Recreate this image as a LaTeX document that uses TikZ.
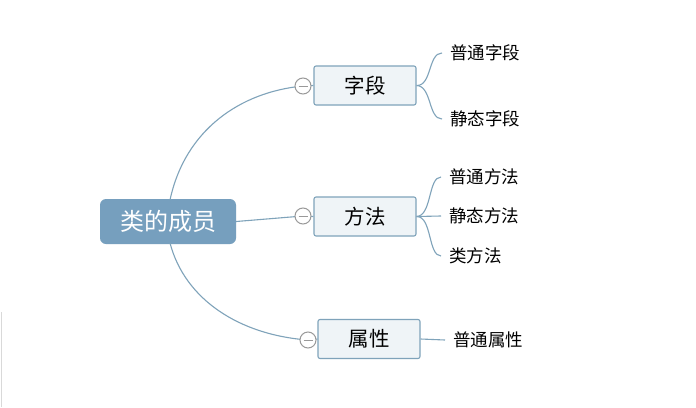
\documentclass[tikz,border=0pt]{standalone}
\usepackage{fontspec}
\setmainfont{Noto Sans CJK SC}
\begin{document}
\begin{tikzpicture}[x=1pt,y=-1pt,
  conn/.style={draw=lineblue,line width=1.1pt},
  topic/.style={draw=lineblue,line width=1.1pt,fill=boxfill,rounded corners=2pt,minimum width=102pt,minimum height=39pt,font=\fontsize{20.5}{20.5}\selectfont,inner sep=0pt},
  leaf/.style={anchor=west,font=\fontsize{17.5}{17.5}\selectfont,inner sep=0pt},
  fold/.style={circle,draw=gray!80,fill=white,minimum size=16pt,inner sep=0pt,line width=1pt}]
\definecolor{lineblue}{HTML}{7FA3BA}
\definecolor{boxfill}{HTML}{EFF4F7}
\definecolor{rootfill}{HTML}{769FBE}
\fill[white] (0,0) rectangle (696,407);
\useasboundingbox (0,0) rectangle (696,407);
\draw[gray!30] (1,312) -- (1,407);
\node[fill=rootfill,rounded corners=6pt,minimum width=136pt,minimum height=45pt,text=white,font=\fontsize{24}{24}\selectfont,inner sep=0pt] (root) at (168,221.5) {类的成员};
\node[topic] (zd) at (365,85.5) {字段};
\node[topic] (ff) at (365,216.5) {方法};
\node[topic] (sx) at (369,339) {属性};
\coordinate (c1) at (303,86);
\coordinate (c2) at (303,216);
\coordinate (c3) at (308,340);
\draw[conn] (170,200) .. controls (185,130) and (240,92) .. (c1);
\draw[conn] (root.east) -- (c2);
\draw[conn] (170,243) .. controls (185,300) and (240,335) .. (c3);
\draw[conn] (c1) -- (zd.west);
\draw[conn] (c2) -- (ff.west);
\draw[conn] (c3) -- (sx.west);
\node[fold] (f1) at (c1) {};
\node[fold] (f2) at (c2) {};
\node[fold] (f3) at (c3) {};
\foreach \n in {f1,f2,f3} \draw[gray!80,line width=1pt] ([xshift=-4.5pt]\n.center) -- ([xshift=4.5pt]\n.center);
\node[leaf] (a1) at (450,53) {普通字段};
\node[leaf] (a2) at (450,119) {静态字段};
\node[leaf] (b1) at (449,177) {普通方法};
\node[leaf] (b2) at (449,216) {静态方法};
\node[leaf] (b3) at (449,256) {类方法};
\node[leaf] (s1) at (453,340) {普通属性};
\draw[conn] (zd.east) .. controls (432,86) and (428,53) .. (442,53);
\draw[conn] (zd.east) .. controls (432,86) and (428,119) .. (442,119);
\draw[conn] (ff.east) .. controls (432,216) and (428,177) .. (441,177);
\draw[conn] (ff.east) -- (441,216);
\draw[conn] (ff.east) .. controls (432,216) and (428,256) .. (441,256);
\draw[conn] (sx.east) -- (445,340);
\end{tikzpicture}
\end{document}
